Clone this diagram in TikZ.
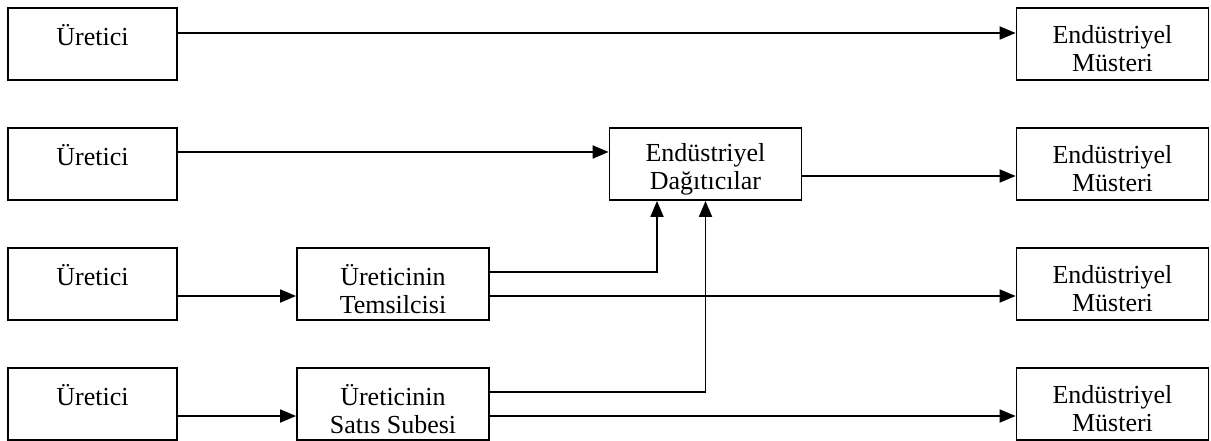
\documentclass[tikz,border=0pt]{standalone}
\usepackage{fontspec}
\setmainfont{Liberation Serif}
\usetikzlibrary{arrows.meta}
\begin{document}
\begin{tikzpicture}[x=1pt,y=-1pt,
  txt/.style={align=center, inner sep=0pt, yshift=-5pt,
    font=\fontsize{26}{28}\selectfont},
  box/.style={draw, line width=1.8pt, minimum height=72pt, inner sep=0pt,
    label={[txt]center:#1}},
  src/.style={box={#1}, minimum width=169pt},
  mid/.style={box={#1}, minimum width=192pt},
  flow/.style={line width=1.8pt, -{Triangle[length=16pt,width=13pt]}}]
\useasboundingbox (0,0) rectangle (1211,441);

% producers (left column)
\node[src={Üretici\\\mbox{}}] (u1) at (92.5,44)  {};
\node[src={Üretici\\\mbox{}}] (u2) at (92.5,164) {};
\node[src={Üretici\\\mbox{}}] (u3) at (92.5,284) {};
\node[src={Üretici\\\mbox{}}] (u4) at (92.5,404) {};

% intermediaries
\node[mid={Üreticinin\\Temsilcisi}]   (t) at (393,284)   {};
\node[mid={Üreticinin\\Satıs Subesi}] (s) at (393,404)   {};
\node[mid={Endüstriyel\\Dağıtıcılar}] (d) at (705.5,164) {};

% industrial customers (right column)
\node[mid={Endüstriyel\\Müsteri}] (m1) at (1112.5,44)  {};
\node[mid={Endüstriyel\\Müsteri}] (m2) at (1112.5,164) {};
\node[mid={Endüstriyel\\Müsteri}] (m3) at (1112.5,284) {};
\node[mid={Endüstriyel\\Müsteri}] (m4) at (1112.5,404) {};

% channel 1: direct
\draw[flow] ([yshift=11pt]u1.east) -- ([yshift=11pt]m1.west);
% channel 2: via distributors
\draw[flow] ([yshift=12pt]u2.east) -- ([yshift=12pt]d.west);
\draw[flow] ([yshift=-12pt]d.east) -- ([yshift=-12pt]m2.west);
% channel 3: via representative
\draw[flow] ([yshift=-12pt]u3.east) -- ([yshift=-12pt]t.west);
\draw[flow] ([yshift=12pt]t.east) -| ([xshift=-48.5pt]d.south);
\draw[flow] ([yshift=-12pt]t.east) -- ([yshift=-12pt]m3.west);
% channel 4: via sales branch
\draw[flow] ([yshift=-12pt]u4.east) -- ([yshift=-12pt]s.west);
\draw[flow] ([yshift=12pt]s.east) -| (d.south);
\draw[flow] ([yshift=-12pt]s.east) -- ([yshift=-12pt]m4.west);
\end{tikzpicture}
\end{document}
